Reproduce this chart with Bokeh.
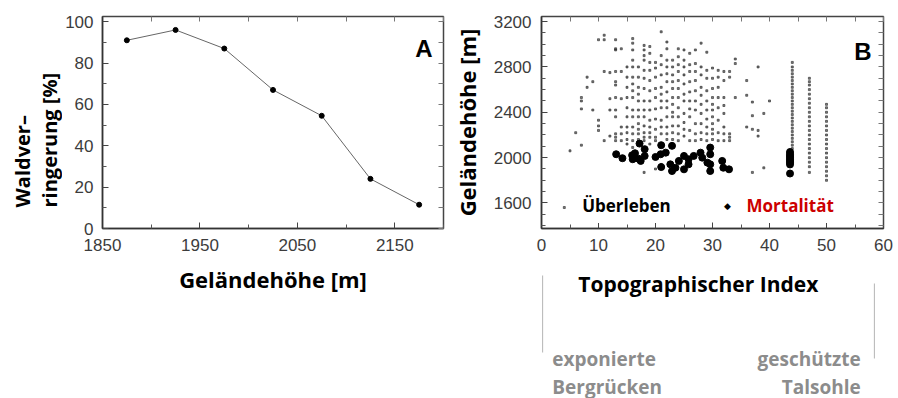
import math
from bokeh.plotting import figure
from bokeh.layouts import row, column
from bokeh.models import Range1d, FixedTicker, Label, LinearAxis
from bokeh.core.properties import value
from bokeh.embed import file_html
from bokeh.resources import INLINE

# ---------------- Panel A data ----------------
elev_a = [1875, 1925, 1975, 2025, 2075, 2125, 2175]
forest_loss = [91, 96, 87, 67, 54.5, 24, 11.5]
a_xticks = [1850, 1950, 2050, 2150]
a_xminor = [1900, 2000, 2100, 2200]
a_yticks = [0, 20, 40, 60, 80, 100]
a_yminor = [10, 30, 50, 70, 90]

# ---------------- Panel B data ----------------
# survival ("Überleben"): topographic index columns and the elevations seen in each
surv_cols = [4, 5, 6, 7, 8, 9, 10, 11, 12, 13, 14, 15, 16, 17, 18, 19, 20, 21, 22, 23,
             24, 25, 26, 27, 28, 29, 30, 31, 32, 33, 34, 36, 37, 38, 39, 40, 44, 47, 50]
surv_elev = [
    [1560],
    [2060],
    [2220],
    [2530, 2500, 2430, 2110],
    [2710, 2620],
    [2670, 2420],
    [3040, 2330, 2280, 2240],
    [3080, 3040, 2760, 2150],
    [2750, 2520, 2420, 2190],
    [3040, 2960, 2950, 2760, 2670, 2640, 2530, 2420, 2360, 2210, 2180, 2150],
    [2960, 2760, 2520, 2270, 2210, 2150],
    [2800, 2710, 2620, 2530, 2440, 2360, 2270, 2220, 2160, 2120],
    [3050, 3010, 2950, 2860, 2800, 2710, 2650, 2590, 2530, 2420, 2360, 2270, 2210, 2150, 2090],
    [2800, 2710, 2620, 2560, 2500, 2420, 2360, 2300, 2250, 2210, 2160],
    [2990, 2950, 2900, 2860, 2770, 2700, 2610, 2500, 2420, 2360, 2280, 2220, 2180, 2150, 1870],
    [2980, 2920, 2840, 2770, 2680, 2590, 2500, 2420, 2330, 2270, 2220, 2180, 2120],
    [2840, 2790, 2710, 2610, 2530, 2430, 2340, 2250, 2180, 2150, 1900],
    [3110, 2900, 2820, 2730, 2620, 2560, 2500, 2440, 2330, 2270, 2210, 1940],
    [3020, 2960, 2860, 2800, 2740, 2670, 2580, 2500, 2440, 2360, 2270, 2210, 2160],
    [2860, 2800, 2730, 2670, 2610, 2530, 2470, 2400, 2360, 2280, 2220, 2160, 1880],
    [2960, 2890, 2820, 2760, 2680, 2610, 2530, 2440, 2360, 2280, 2210, 2150],
    [2950, 2860, 2800, 2730, 2650, 2560, 2500, 2390, 2310, 2250, 2190],
    [2920, 2820, 2760, 2670, 2580, 2500, 2430, 2360, 2240, 2150],
    [2950, 2830, 2760, 2680, 2590, 2500, 2420, 2300, 2210, 2150],
    [3010, 2800, 2730, 2620, 2550, 2470, 2390, 2300, 2220, 2160],
    [2930, 2770, 2700, 2590, 2500, 2420, 2340, 2270, 2210, 2150],
    [2790, 2700, 2610, 2530, 2470, 2420, 2360, 2300, 2250, 2210, 2160],
    [2770, 2710, 2620, 2530, 2440, 2330, 2220, 2150],
    [2760, 2680, 2530, 2460, 2390, 2270, 2210, 2150],
    [2760, 2710, 2210, 2180, 2150],
    [2870, 2830, 2530],
    [2680, 2550, 2270],
    [2490, 2370, 2250, 1870],
    [2800, 2240, 2190],
    [2390, 1910],
    [2500],
    [2840, 2800, 2770, 2740, 2710, 2680, 2650, 2620, 2590, 2560, 2530, 2500, 2470,
     2440, 2410, 2380, 2350, 2320, 2290, 2260, 2230, 2200, 2170, 2140, 2110, 2080],
    [2700, 2670, 2640, 2600, 2560, 2520, 2480, 2440, 2400, 2360, 2320, 2280, 2240,
     2200, 2160, 2120, 2080, 2040, 2000, 1960, 1920, 1870],
    [2470, 2440, 2400, 2360, 2320, 2280, 2240, 2200, 2160, 2120, 2080, 2040, 2000,
     1960, 1920, 1880, 1840, 1800],
]
# mortality ("Mortalität")
mort_x = [13.1, 14.2, 15.9, 16.0, 16.4, 17.0, 17.2, 17.4, 18.1, 18.1, 20.0, 20.9, 21.0,
          21.0, 21.8, 22.6, 22.9, 22.9, 23.5, 24.1, 25.0, 25.0, 25.8, 25.8, 26.7, 27.9,
          28.2, 29.1, 29.6, 29.6, 29.6, 29.6, 31.7, 31.9, 32.9,
          43.6, 43.6, 43.6, 43.6, 43.6, 43.6, 43.6, 43.6, 43.6]
mort_y = [2030, 1995, 2021, 1986, 2039, 1991, 2124, 1971, 2075, 2015, 2006, 2030, 1917,
          2110, 2044, 1941, 2104, 1882, 1911, 1971, 2015, 1897, 1986, 1941, 2015, 2044,
          2000, 1956, 2089, 2030, 1941, 1882, 1971, 1911, 1897,
          2050, 2030, 2015, 2000, 1985, 1970, 1955, 1940, 1860]
b_xticks = [0, 10, 20, 30, 40, 50, 60]
b_xminor = [5, 15, 25, 35, 45, 55]
b_yticks = [1600, 2000, 2400, 2800, 3200]
b_yminor = [1400, 1500, 1700, 1800, 1900, 2100, 2200, 2300, 2500, 2600, 2700, 2900, 3000, 3100]

surv_x = [c for c, ys in zip(surv_cols, surv_elev) for _ in ys]
surv_y = [y for ys in surv_elev for y in ys]

TICK_FONT = "Liberation Sans"
LABEL_FONT = "Open Sans"
TICK_COLOR = "#3c3c3c"
GRAY = "#8c8c8c"


def style(p, xt, xm, yt, ym):
    p.background_fill_color = "white"
    p.border_fill_color = "white"
    p.outline_line_color = "#444444"
    p.outline_line_width = 1.5
    p.xgrid.visible = False
    p.ygrid.visible = False
    for ax, t, m in ((p.below[0], xt, xm), (p.left[0], yt, ym)):
        ax.ticker = FixedTicker(ticks=t, minor_ticks=m)
        ax.axis_line_color = "#333333"
        ax.axis_line_width = 1.5
        ax.major_tick_in = 6
        ax.major_tick_out = 0
        ax.minor_tick_in = 4
        ax.minor_tick_out = 0
        ax.major_tick_line_color = "#444444"
        ax.minor_tick_line_color = "#555555"
        ax.major_label_text_font = TICK_FONT
        ax.major_label_text_font_size = "17px"
        ax.major_label_text_color = TICK_COLOR
        ax.major_label_standoff = 10
        ax.axis_label_text_font = LABEL_FONT
        ax.axis_label_text_font_style = "bold"
        ax.axis_label_text_font_size = "22px"
        ax.axis_label_text_color = "black"
    # inward ticks on the opposite sides (minor-only axes: no labels)
    for loc, t, m in (("right", yt, ym), ("above", xt, xm)):
        ax = LinearAxis(ticker=FixedTicker(ticks=[], minor_ticks=sorted(t + m)),
                        axis_line_color=None, major_tick_in=0, major_tick_out=0,
                        minor_tick_in=5, minor_tick_out=0,
                        minor_tick_line_color="#777777")
        p.add_layout(ax, loc)


def panel_letter(p, text, x, y):
    p.add_layout(Label(x=x, y=y, x_units="screen", y_units="screen", text=text,
                       text_font=TICK_FONT, text_font_size="24px", text_font_style="bold",
                       text_color="black", text_align="right", text_baseline="alphabetic"))


def text_fig(width, height, xr, yr, left=0, right=0, top=0, bottom=0):
    f = figure(width=width, height=height, output_backend="svg", toolbar_location=None,
               x_range=xr, y_range=yr, x_axis_type=None, y_axis_type=None,
               min_border_left=left, min_border_right=right,
               min_border_top=top, min_border_bottom=bottom)
    f.outline_line_color = None
    f.xgrid.visible = False
    f.ygrid.visible = False
    f.background_fill_color = "white"
    f.border_fill_color = "white"
    return f


def txt(f, x, y, s, size, color="black", align="center", angle=0.0):
    f.text(x=[x], y=[y], text=[s], text_font=value(LABEL_FONT), text_font_style="bold",
           text_font_size=size, text_color=color, text_align=align,
           text_baseline="middle", angle=angle)


# ---------------- y title of panel A (frame aligned with panel A's frame) ----------------
ya = text_fig(62, 398, Range1d(0, 62), Range1d(228, 16), top=16, bottom=170)
txt(ya, 22, 207, "Waldver–", "20px", align="left", angle=math.pi / 2)
txt(ya, 49, 207, "ringerung [%]", "20px", align="left", angle=math.pi / 2)

# ---------------- Figure A ----------------
pa = figure(width=391, height=398, output_backend="svg", toolbar_location=None,
            x_range=Range1d(1850, 2200), y_range=Range1d(0, 102.5),
            min_border_left=38, min_border_right=10, min_border_top=16, min_border_bottom=170)
style(pa, a_xticks, a_xminor, a_yticks, a_yminor)
pa.left[0].major_label_standoff = 9
pa.below[0].axis_label = "Geländehöhe [m]"
pa.below[0].axis_label_standoff = 10
pa.line(elev_a, forest_loss, line_color="#666666", line_width=1)
pa.scatter(elev_a, forest_loss, size=5, color="black")
panel_letter(pa, "A", 330, 180)

# ---------------- y title of panel B ----------------
yb = text_fig(35, 398, Range1d(453, 488), Range1d(228, 16), top=16, bottom=170)
txt(yb, 466, 122, "Geländehöhe [m]", "22px", angle=math.pi / 2)

# ---------------- Figure B ----------------
pb = figure(width=410, height=262, output_backend="svg", toolbar_location=None,
            x_range=Range1d(0, 60), y_range=Range1d(1375, 3245),
            min_border_left=53, min_border_right=15, min_border_top=16, min_border_bottom=34)
style(pb, b_xticks, b_xminor, b_yticks, b_yminor)
pb.scatter(surv_x, surv_y, marker="square", size=2, color="#2a2a2a", alpha=0.6)
pb.scatter(mort_x, mort_y, marker="circle", size=7, color="black")
panel_letter(pb, "B", 330, 177)
for s, x, align, color in (("Überleben", 85, "center", "black"),
                           ("Mortalität", 199, "left", "#cc0000")):
    pb.add_layout(Label(x=x, y=23, x_units="screen", y_units="screen", text=s,
                        text_font=LABEL_FONT, text_font_size="17px", text_font_style="bold",
                        text_color=color, text_align=align, text_baseline="middle",
                        background_fill_color="white", padding=6))
pb.add_layout(Label(x=186, y=23, x_units="screen", y_units="screen", text="◆",
                    text_font="DejaVu Sans", text_font_size="9px", text_color="black",
                    text_align="center", text_baseline="middle"))

# ---------------- notes below panel B (frame aligned with panel B's frame) ----------------
nb = text_fig(410, 136, Range1d(0, 60), Range1d(136, 0), left=53, right=15)
txt(nb, 27.5, 21, "Topographischer Index", "21px")
nb.segment(x0=[0.2, 58.4], y0=[13, 21], x1=[0.2, 58.4], y1=[90, 96],
           line_color="#b4b4b4", line_width=1)
txt(nb, 1.9, 96, "exponierte", "19px", color=GRAY, align="left")
txt(nb, 1.9, 124, "Bergrücken", "19px", color=GRAY, align="left")
txt(nb, 56.0, 96, "geschützte", "19px", color=GRAY, align="right")
txt(nb, 56.0, 124, "Talsohle", "19px", color=GRAY, align="right")

layout = row(ya, pa, yb, column(pb, nb))
open("out.html", "w").write(file_html(layout, INLINE))
